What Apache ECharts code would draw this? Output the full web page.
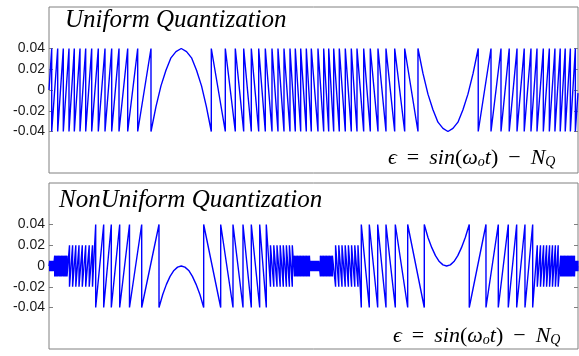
<!DOCTYPE html>
<html>
<head>
<meta charset="utf-8">
<script src="https://cdn.jsdelivr.net/npm/echarts@6/dist/echarts.min.js"></script>
<style>
  html, body { margin: 0; padding: 0; background: #fff; }
  #chart { width: 579px; height: 356px; }
</style>
</head>
<body>
<div id="chart"></div>
<script>
// x is the phase of the sine in degrees (0..360), y is the quantization error
const yTicks = [-0.04, -0.02, 0, 0.02, 0.04];

// ---- uniform quantization: x of each jump ----
const uniRise1 = [1.84, 5.92, 9.73, 13.61, 17.22, 21.10, 24.97, 29.06, 33.55, 38.11, 42.67, 47.64, 53.56, 60.36, 69.41];
const uniPeakArch = [
  [69.41, -0.04], [72.8, -0.016], [76.2, 0.004], [79.6, 0.019], [83.0, 0.031], [86.4, 0.037], [90.0, 0.04],
  [93.6, 0.037], [97.0, 0.031], [100.4, 0.019], [103.8, 0.004], [107.1, -0.016], [110.45, -0.04]
];
const uniFall2 = [110.45, 119.98, 126.78, 132.49, 137.67, 142.70, 147.20, 151.75, 155.83, 159.92, 164.0, 167.61, 171.28, 175.10, 178.50];
const uniFall3 = [183.05, 186.93, 190.34, 193.74, 197.55, 201.63, 205.72, 209.60, 214.15, 218.65, 223.88, 229.33, 235.25, 242.06, 251.1];
const uniTroughArch = [
  [251.1, 0.04], [254.5, 0.016], [257.9, -0.004], [261.3, -0.019], [264.7, -0.031], [268.1, -0.037], [271.5, -0.04],
  [274.9, -0.037], [278.3, -0.031], [281.7, -0.019], [285.1, -0.004], [288.6, 0.016], [292.1, 0.04]
];
const uniRise4 = [292.1, 300.8, 307.6, 313.2, 318.5, 323.4, 328.0, 332.1, 336.4, 340.5, 344.3, 347.9, 351.3, 354.8, 358.2];

// ---- non-uniform quantization: jumps per step band ----
const nuRise1Fine = [0.48, 0.95, 1.43, 1.91, 2.38, 2.86];
const nuRise1Small = [3.88, 4.83, 5.78, 6.74, 7.69, 8.64, 9.60, 10.55, 11.50, 12.25];
const nuRise1Mid = [13.95, 16.06, 18.24, 20.42, 22.66, 24.97, 27.36, 29.60];
const nuRise1Big = [31.78, 37.22, 42.40, 48.11, 54.78, 63.08, 74.86];
const nuPeakArch = [
  [74.86, -0.04], [77.4, -0.0275], [79.9, -0.0177], [82.4, -0.010], [85.0, -0.0043], [87.5, -0.0011], [90.0, 0],
  [92.5, -0.0011], [95.1, -0.0043], [97.6, -0.010], [100.1, -0.0177], [102.7, -0.0275], [105.27, -0.04]
];
const nuFall2Big = [105.27, 116.84, 125.21, 132.02, 137.67, 143.38, 147.87];
const nuFall2Mid = [150.73, 152.98, 155.16, 157.33, 159.44, 161.55, 163.59, 165.57];
const nuFall2Small = [167.0, 168.02, 169.04, 170.06, 171.08, 172.10, 173.12, 174.14, 175.16, 176.18, 177.20];
const nuFallFine = [177.88, 178.36, 178.84, 179.31, 179.79, 180.27, 180.74, 181.22, 181.69, 182.17, 182.65, 183.12, 183.60];
const nuFall3Small = [184.69, 185.71, 186.73, 187.75, 188.77, 189.79, 190.81, 191.83, 192.85];
const nuFall3Mid = [195.03, 197.21, 199.39, 201.57, 203.74, 205.92, 208.10, 210.27];
const nuFall3Big = [212.53, 217.97, 223.68, 229.33, 235.67, 244.10, 255.39];
const nuTroughArch = [
  [255.39, 0.04], [257.9, 0.0275], [260.5, 0.0177], [263.0, 0.010], [265.6, 0.0043], [268.1, 0.0011], [270.6, 0],
  [273.1, 0.0011], [275.6, 0.0043], [278.2, 0.010], [280.7, 0.0177], [283.3, 0.0275], [286.0, 0.04]
];
const nuRise4Big = [286.0, 297.38, 305.75, 312.55, 318.27, 323.92, 329.16];
const nuRise4Mid = [332.29, 334.47, 336.58, 338.62, 340.66, 342.63, 344.61, 346.51];
const nuRise4Small = [348.21, 349.17, 350.12, 351.07, 352.03, 352.98, 353.93, 354.88, 355.83, 356.79, 357.60];
const nuRise4Fine = [358.01, 358.49, 358.96, 359.44, 359.92];

// rising teeth drop from +a to -a at each jump, falling teeth jump from -a to +a
function teeth(out, xs, a, rising) {
  xs.forEach(x => {
    if (rising) out.push([x, a], [x, -a]);
    else out.push([x, -a], [x, a]);
  });
}

const uniform = [[0, 0]];
teeth(uniform, uniRise1, 0.04, true);
uniform.push(...uniPeakArch);
teeth(uniform, uniFall2, 0.04, false);
teeth(uniform, uniFall3, 0.04, false);
uniform.push(...uniTroughArch);
teeth(uniform, uniRise4, 0.04, true);
uniform.push([360, -0.003]);

const nonUniform = [[0, 0]];
teeth(nonUniform, nuRise1Fine, 0.005, true);
teeth(nonUniform, nuRise1Small, 0.01, true);
teeth(nonUniform, nuRise1Mid, 0.02, true);
teeth(nonUniform, nuRise1Big, 0.04, true);
nonUniform.push(...nuPeakArch);
teeth(nonUniform, nuFall2Big, 0.04, false);
teeth(nonUniform, nuFall2Mid, 0.02, false);
teeth(nonUniform, nuFall2Small, 0.01, false);
teeth(nonUniform, nuFallFine, 0.005, false);
teeth(nonUniform, nuFall3Small, 0.01, false);
teeth(nonUniform, nuFall3Mid, 0.02, false);
teeth(nonUniform, nuFall3Big, 0.04, false);
nonUniform.push(...nuTroughArch);
teeth(nonUniform, nuRise4Big, 0.04, true);
teeth(nonUniform, nuRise4Mid, 0.02, true);
teeth(nonUniform, nuRise4Small, 0.01, true);
teeth(nonUniform, nuRise4Fine, 0.005, true);
nonUniform.push([360, 0]);

const frame = '#808080';
const serif = 'Liberation Serif, DejaVu Serif, serif';

function yAxis(gridIndex, position) {
  return {
    gridIndex: gridIndex,
    type: 'value',
    position: position,
    min: -0.08,
    max: 0.08,
    axisLine: { show: false },
    splitLine: { show: false },
    axisTick: { show: true, inside: true, length: 4, customValues: yTicks, lineStyle: { color: frame } },
    axisLabel: {
      show: position === 'left',
      customValues: yTicks,
      margin: 4,
      fontFamily: 'Liberation Sans, Arial, sans-serif',
      fontSize: 14,
      color: '#1a1a1a'
    }
  };
}

const eqBase = { fontFamily: serif, fontWeight: 'normal', color: '#000', verticalAlign: 'bottom' };
const eqRich = {
  i: Object.assign({}, eqBase, { fontStyle: 'italic', fontSize: 22, lineHeight: 24 }),
  r: Object.assign({}, eqBase, { fontSize: 22, lineHeight: 24 }),
  s: Object.assign({}, eqBase, { fontStyle: 'italic', fontSize: 14, lineHeight: 14 }),
  g: Object.assign({}, eqBase, { fontSize: 10, width: 10, lineHeight: 24 })
};
const eqText = '{i|ϵ}{g| }{r|=}{g| }{i|sin}{r|(}{i|ω}{s|o}{i|t}{r|)}{g| }{r|−}{g| }{i|N}{s|Q}';

const titleFont = { fontFamily: serif, fontStyle: 'italic', fontWeight: 'normal', fontSize: 25, color: '#000' };

const chart = echarts.init(document.getElementById('chart'), null, { renderer: 'canvas' });
chart.setOption({
  animation: false,
  backgroundColor: '#fff',
  title: [
    { text: 'Uniform Quantization', left: 65, top: 8, padding: 0, textStyle: titleFont },
    { text: 'NonUniform Quantization', left: 59, top: 188, padding: 0, textStyle: titleFont },
    { text: eqText, left: 388, top: 145, padding: 0, textStyle: { fontWeight: 'normal', rich: eqRich } },
    { text: eqText, left: 393, top: 323, padding: 0, textStyle: { fontWeight: 'normal', rich: eqRich } }
  ],
  grid: [
    { left: 49, right: 1, top: 7, height: 166, show: true, borderColor: frame, borderWidth: 1, backgroundColor: 'transparent' },
    { left: 49, right: 1, top: 183, height: 166, show: true, borderColor: frame, borderWidth: 1, backgroundColor: 'transparent' }
  ],
  xAxis: [
    { gridIndex: 0, type: 'value', min: 0, max: 360, show: false },
    { gridIndex: 1, type: 'value', min: 0, max: 360, show: false }
  ],
  yAxis: [yAxis(0, 'left'), yAxis(0, 'right'), yAxis(1, 'left'), yAxis(1, 'right')],
  series: [
    {
      type: 'line', xAxisIndex: 0, yAxisIndex: 0, data: uniform,
      showSymbol: false, silent: true,
      lineStyle: { color: '#0000ff', width: 1.4 }
    },
    {
      type: 'line', xAxisIndex: 1, yAxisIndex: 2, data: nonUniform,
      showSymbol: false, silent: true,
      lineStyle: { color: '#0000ff', width: 1.4 }
    }
  ]
});
</script>
</body>
</html>
